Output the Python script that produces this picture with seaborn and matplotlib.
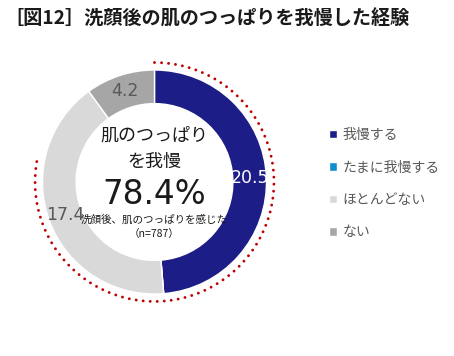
import numpy as np
import matplotlib
matplotlib.use("Agg")
import matplotlib.pyplot as plt
import seaborn as sns

# ---- data ----
title = "［図12］洗顔後の肌のつっぱりを我慢した経験"
categories = ["我慢する", "たまに我慢する", "ほとんどない", "ない"]
values = [20.5, 0.0, 17.4, 4.2]          # wedge shown for たまに我慢する has no visible size
value_labels = ["20.5", "", "17.4", "4.2"]
colors = ["#1D1D87", "#0E8ECF", "#D9D9D9", "#A6A6A6"]
label_colors = ["white", "white", "#595959", "#595959"]
total_share = 78.4
center_lines = ["肌のつっぱり", "を我慢"]
center_value = "78.4%"
base_lines = ["洗顔後、肌のつっぱりを感じた", "（n=787）"]

sns.set_theme(style="white")
plt.rcParams["font.family"] = ["Noto Sans CJK JP", "DejaVu Sans"]

W, H = 454, 356
fig = plt.figure(figsize=(W / 100, H / 100), dpi=100)
fig.patch.set_facecolor("white")

# donut placement (pixels)
cx, cy, R = 154.5, 182.0, 120.0
half = 140.0
ax = fig.add_axes([(cx - half) / W, (H - cy - half) / H, 2 * half / W, 2 * half / H])
ax.set_xlim(-half / R, half / R)
ax.set_ylim(-half / R, half / R)
ax.set_aspect("equal")
ax.axis("off")

wedges, _ = ax.pie(values, colors=colors, startangle=90, counterclock=False,
                   radius=1.0, wedgeprops=dict(width=0.30, edgecolor="white", linewidth=1.0))

for w, lab, lc in zip(wedges, value_labels, label_colors):
    if not lab:
        continue
    mid = np.deg2rad((w.theta1 + w.theta2) / 2)
    r = 0.85
    ax.text(r * np.cos(mid), r * np.sin(mid), lab, ha="center", va="center",
            fontsize=12.5, color=lc, family=["DejaVu Sans"])

# red dotted arc for the combined share
ang = np.deg2rad(np.linspace(90, 90 - 360 * total_share / 100, 400))
ra = 128 / R
ax.plot(ra * np.cos(ang), ra * np.sin(ang), color="#C00000", lw=2.1,
        linestyle=(0, (0.01, 2.4)), dash_capstyle="round")

# center text
txt_c = "#1a1a1a"
ax.text(0, (182 - 132) / R, center_lines[0], ha="center", va="center", fontsize=13, color=txt_c)
ax.text(0, (182 - 160) / R, center_lines[1], ha="center", va="center", fontsize=13, color=txt_c)
ax.text(0, (182 - 195) / R, center_value, ha="center", va="center", fontsize=23.5, color=txt_c,
        family=["DejaVu Sans"])
ax.text(0, (182 - 222) / R, base_lines[0], ha="center", va="center", fontsize=7.6, color=txt_c)
ax.text(0, (182 - 238) / R, base_lines[1], ha="center", va="center", fontsize=7.6, color=txt_c)

# title
fig.text(4 / W, 1 - 19 / H, title, ha="left", va="center", fontsize=13.8, fontweight="bold",
         color="#1a1a1a")

# legend
leg = fig.legend(wedges, categories, loc="upper left", bbox_to_anchor=(329 / W, 1 - 128 / H),
                 frameon=False, fontsize=10, labelcolor="#595959", handlelength=0.55,
                 handleheight=0.55, handletextpad=0.4, labelspacing=1.33, borderaxespad=0,
                 borderpad=0)

fig.savefig("out.png", dpi=100, facecolor="white")
